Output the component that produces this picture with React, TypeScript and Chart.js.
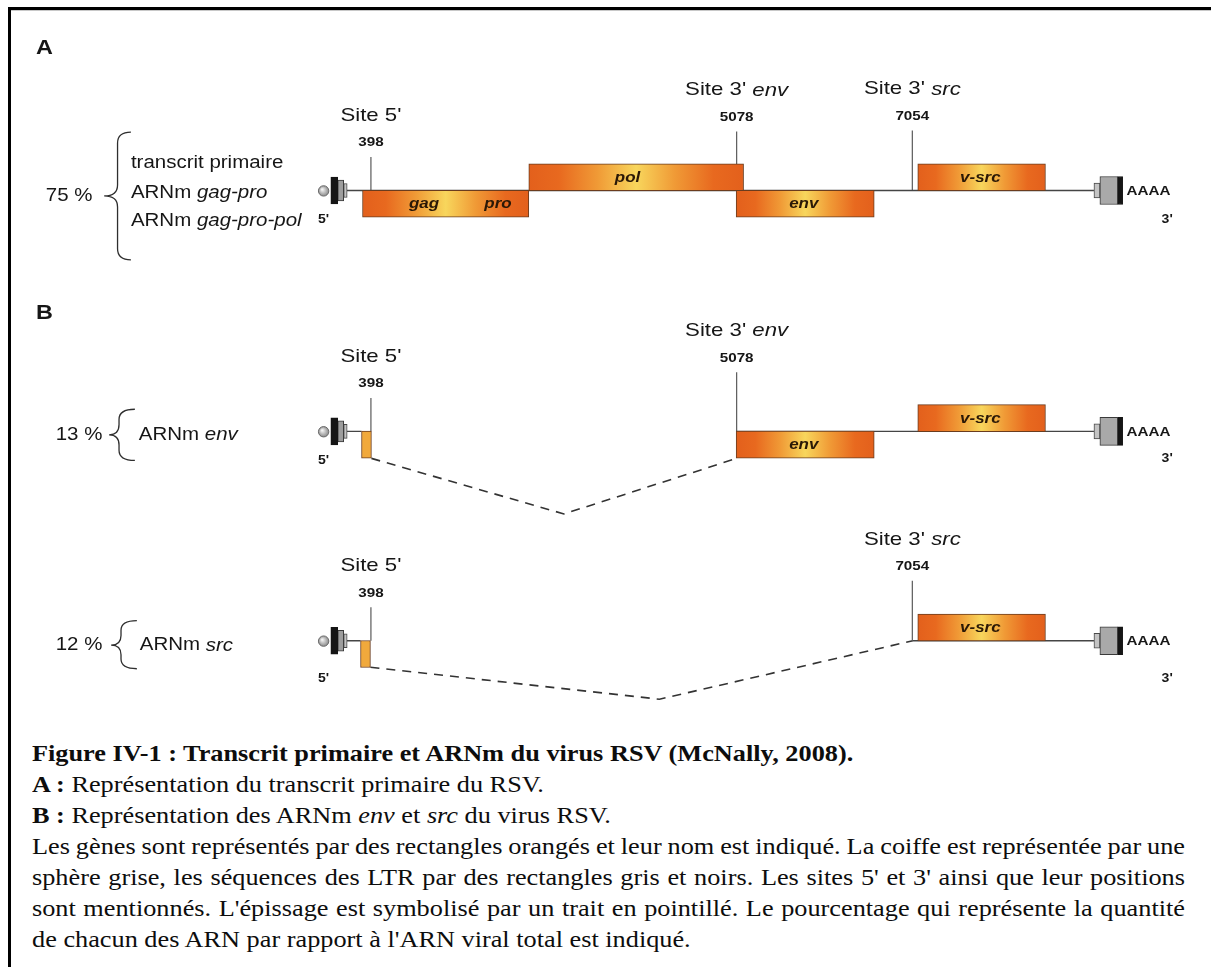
import React, { useEffect, useRef } from "react";
import { Chart, registerables } from "chart.js";

Chart.register(...registerables);

// ---------------- data (diagram units) ----------------
const rowBaseline = [187.5, 432.5, 645.5];
const rowPercent = ["75 %", "13 %", "12 %"];
const rowLabelTexts = [
  ["transcrit primaire", "ARNm _gag-pro_", "ARNm _gag-pro-pol_"],
  ["ARNm _env_"],
  ["ARNm _src_"],
];
const rowLabelY = [[160, 190, 218.5], [436.5], [650.5]];
const braceTop = [128, 410, 625];
const braceBottom = [258, 462, 674];
const braceMid = [193, 436, 650];
const panelLetters = ["A", "B"];
const panelLetterY = [43.5, 313];

const siteNames = ["Site 5'", "Site 3' _env_", "Site 3' _src_"];
const siteNumbers = ["398", "5078", "7054"];
const siteX = [368.5, 738, 915.5];
const siteTickRise = [34, 60, 61];
const rowSites = [[0, 1, 2], [0, 1], [0, 2]];

const geneRow = [0, 0, 0, 0, 1, 1, 2];
const geneLabels = [["gag", "pro"], ["pol"], ["env"], ["v-src"], ["env"], ["v-src"], ["v-src"]];
const geneLabelFrac = [[0.37, 0.815], [0.46], [0.49], [0.49], [0.49], [0.49], [0.49]];
const geneStart = [360, 528, 737.5, 921, 737.5, 921, 921];
const geneEnd = [528, 745, 877, 1050, 877, 1050, 1050];
const geneLane = ["low", "high", "low", "high", "low", "high", "high"];

const exonRow = [1, 2];
const exonStart = [359, 358];
const exonEnd = [369, 368];

const backboneRow = [0, 1, 1, 2, 2];
const backboneStart = [344, 344, 737.5, 344, 916];
const backboneEnd = [1099, 359, 1099, 358, 1099];

const spliceX = [[369, 563.5, 738], [368, 660, 916]];
const spliceY = [[460, 516.5, 460], [672.5, 705, 645.5]];

const endLabelY5 = [217, 462, 684];
const endLabelY3 = [217, 460, 684];

// ---------------- styles ----------------
const STRETCH = 1.17;
const FONT = '"Liberation Sans", Arial, Helvetica, sans-serif';
const INK = "#161616";
const GENE_INK = "#2a1806";
const LANE = 27;
const CAP_X = 320.7;
const LTR5 = [
  { x: [328, 335], t: 27, bg: "#151515", bd: "#151515" },
  { x: [335, 341], t: 21, bg: "#9d9d9d", bd: "#3a3a3a" },
  { x: [341, 344.5], t: 14, bg: "#c4c4c4", bd: "#4a4a4a" },
];
const LTR3 = [
  { x: [1099, 1105], t: 15, bg: "#c4c4c4", bd: "#4a4a4a" },
  { x: [1105, 1123], t: 28, bg: "#a9a9a9", bd: "#3a3a3a" },
  { x: [1123, 1128], t: 28, bg: "#151515", bd: "#151515" },
];
const LEFT = { percentX: [40, 50, 50], labelX: [126, 134, 135], braceTip: [99, 104, 106], braceV: [112.5, 114, 116], braceEnd: [126, 130, 132] };

function drawRich(
  ctx: CanvasRenderingContext2D,
  text: string,
  x: number,
  y: number,
  align: "left" | "center" | "right",
  size: number,
  bold: boolean,
  italicAll: boolean,
  color: string,
  sx = STRETCH
) {
  const parts = text.split("_").map((t, i) => ({ t, it: italicAll || i % 2 === 1 }));
  const fontFor = (it: boolean) => `${it ? "italic " : ""}${bold ? "bold " : ""}${size}px ${FONT}`;
  let w = 0;
  for (const p of parts) {
    ctx.font = fontFor(p.it);
    w += ctx.measureText(p.t).width;
  }
  ctx.save();
  ctx.translate(x, y);
  ctx.scale(sx, 1);
  let cx = align === "center" ? -w / 2 : align === "right" ? -w : 0;
  ctx.textBaseline = "middle";
  ctx.textAlign = "left";
  ctx.fillStyle = color;
  for (const p of parts) {
    ctx.font = fontFor(p.it);
    ctx.fillText(p.t, cx, 0);
    cx += ctx.measureText(p.t).width;
  }
  ctx.restore();
}

const annotationPlugin = {
  id: "diagramText",
  afterDatasetsDraw(chart: any) {
    const ctx: CanvasRenderingContext2D = chart.ctx;
    const xs = chart.scales.x;
    const ys = chart.scales.y;
    const X = (v: number) => xs.getPixelForValue(v);
    const Y = (v: number) => ys.getPixelForValue(v);

    panelLetters.forEach((l, i) => drawRich(ctx, l, X(30), Y(panelLetterY[i]), "left", 20, true, false, INK));

    rowBaseline.forEach((base, r) => {
      drawRich(ctx, rowPercent[r], X(LEFT.percentX[r]), Y(braceMid[r]), "left", 17.5, false, false, INK);
      const t = Y(braceTop[r]), b = Y(braceBottom[r]), m = Y(braceMid[r]);
      const xt = X(LEFT.braceTip[r]), xv = X(LEFT.braceV[r]), xe = X(LEFT.braceEnd[r]);
      const rr = Math.min(11, (b - t) / 5);
      ctx.save();
      ctx.strokeStyle = "#2e2e2e";
      ctx.lineWidth = 1.3;
      ctx.beginPath();
      ctx.moveTo(xe, t);
      ctx.quadraticCurveTo(xv, t, xv, t + rr);
      ctx.lineTo(xv, m - rr);
      ctx.quadraticCurveTo(xv, m, xt, m);
      ctx.quadraticCurveTo(xv, m, xv, m + rr);
      ctx.lineTo(xv, b - rr);
      ctx.quadraticCurveTo(xv, b, xe, b);
      ctx.stroke();
      ctx.restore();
      rowLabelTexts[r].forEach((txt, k) =>
        drawRich(ctx, txt, X(LEFT.labelX[r]), Y(rowLabelY[r][k]), "left", 17.5, false, false, INK)
      );
      rowSites[r].forEach((s) => {
        const top = base - siteTickRise[s];
        drawRich(ctx, siteNumbers[s], X(siteX[s]), Y(top - 14.5), "center", 13, true, false, INK);
        drawRich(ctx, siteNames[s], X(siteX[s]), Y(top - 42), "center", 19, false, false, INK);
      });
      drawRich(ctx, "5'", X(CAP_X), Y(endLabelY5[r]), "center", 12, true, false, INK);
      drawRich(ctx, "3'", X(1173), Y(endLabelY3[r]), "center", 12, true, false, INK);
      drawRich(ctx, "AAAA", X(1132), Y(base + 1), "left", 13, true, false, INK);
    });

    geneRow.forEach((r, i) => {
      const cy = rowBaseline[r] + (geneLane[i] === "high" ? -LANE / 2 : LANE / 2) + 0.5;
      geneLabels[i].forEach((lab, k) => {
        const gx = geneStart[i] + (geneEnd[i] - geneStart[i]) * geneLabelFrac[i][k];
        drawRich(ctx, lab, X(gx), Y(cy), "center", 14.5, true, true, GENE_INK);
      });
    });
  },
};

function geneGradient(c: any) {
  const ch = c.chart;
  const xs = ch.scales && ch.scales.x;
  const raw = c.raw;
  if (!xs || !raw || !Array.isArray(raw.x)) return "#E8671F";
  const x0 = xs.getPixelForValue(raw.x[0]);
  const x1 = xs.getPixelForValue(raw.x[1]);
  if (!isFinite(x0) || !isFinite(x1) || x1 - x0 < 1) return "#E8671F";
  const g = ch.ctx.createLinearGradient(x0, 0, x1, 0);
  g.addColorStop(0, "#E3601C");
  g.addColorStop(0.14, "#E8691F");
  g.addColorStop(0.32, "#F09A36");
  g.addColorStop(0.5, "#F8D65C");
  g.addColorStop(0.68, "#F09A36");
  g.addColorStop(0.86, "#E8691F");
  g.addColorStop(1, "#E3601C");
  return g;
}

function capGradient(c: any) {
  const ch = c.chart;
  const raw = c.raw;
  if (!ch.scales || !ch.scales.x || !raw) return "#b5b5b5";
  const cx = ch.scales.x.getPixelForValue(raw.x);
  const cy = ch.scales.y.getPixelForValue(raw.y);
  if (!isFinite(cx) || !isFinite(cy)) return "#b5b5b5";
  const g = ch.ctx.createRadialGradient(cx - 1.5, cy - 1.5, 0.5, cx, cy, 5.5);
  g.addColorStop(0, "#f2f2f2");
  g.addColorStop(1, "#858585");
  return g;
}

export default function App() {
  const ref = useRef<HTMLCanvasElement>(null);

  useEffect(() => {
    const canvas = ref.current;
    if (!canvas) return;
    const datasets: any[] = [];

    backboneRow.forEach((r, i) =>
      datasets.push({
        type: "line",
        data: [
          { x: backboneStart[i], y: rowBaseline[r] },
          { x: backboneEnd[i], y: rowBaseline[r] },
        ],
        borderColor: "#454545",
        borderWidth: 1.4,
        pointRadius: 0,
        fill: false,
        order: 6,
      })
    );

    rowSites.forEach((sites, r) =>
      sites.forEach((s) =>
        datasets.push({
          type: "line",
          data: [
            { x: siteX[s], y: rowBaseline[r] - siteTickRise[s] },
            { x: siteX[s], y: rowBaseline[r] },
          ],
          borderColor: "#5a5a5a",
          borderWidth: 1.2,
          pointRadius: 0,
          fill: false,
          order: 6,
        })
      )
    );

    spliceX.forEach((xsArr, k) =>
      datasets.push({
        type: "line",
        data: xsArr.map((x, j) => ({ x, y: spliceY[k][j] })),
        borderColor: "#333333",
        borderWidth: 1.6,
        borderDash: [9, 7],
        pointRadius: 0,
        fill: false,
        order: 6,
      })
    );

    const barBase = {
      type: "bar",
      indexAxis: "y",
      stack: "g",
      borderSkipped: false,
      order: 3,
    };

    datasets.push({
      ...barBase,
      data: geneRow.map((r, i) => ({
        y: rowBaseline[r] + (geneLane[i] === "high" ? -LANE / 2 : LANE / 2),
        x: [geneStart[i], geneEnd[i]],
      })),
      barThickness: LANE,
      backgroundColor: geneGradient,
      borderColor: "#6a3c1e",
      borderWidth: 1,
    });

    datasets.push({
      ...barBase,
      data: exonRow.map((r, i) => ({ y: rowBaseline[r] + LANE / 2, x: [exonStart[i], exonEnd[i]] })),
      barThickness: LANE,
      backgroundColor: "#F1A93C",
      borderColor: "#6a3c1e",
      borderWidth: 1,
    });

    [...LTR5, ...LTR3].forEach((p) =>
      datasets.push({
        ...barBase,
        data: rowBaseline.map((b) => ({ y: b, x: p.x })),
        barThickness: p.t,
        backgroundColor: p.bg,
        borderColor: p.bd,
        borderWidth: 1,
      })
    );

    datasets.push({
      type: "line",
      showLine: false,
      data: rowBaseline.map((b) => ({ x: CAP_X, y: b + 0.4 })),
      pointRadius: 5.2,
      pointBackgroundColor: capGradient,
      pointBorderColor: "#6a6a6a",
      pointBorderWidth: 1,
      order: 1,
    });

    const chart = new Chart(canvas, {
      type: "line",
      data: { datasets },
      options: {
        animation: false,
        responsive: false,
        maintainAspectRatio: false,
        events: [],
        layout: { padding: 0 },
        datasets: { bar: { indexAxis: "y" } } as any,
        plugins: { legend: { display: false }, tooltip: { enabled: false }, title: { display: false } },
        scales: {
          x: { type: "linear", min: 0, max: 1211, display: false, offset: false, stacked: false, grid: { offset: false } },
          y: { type: "linear", min: 0, max: 730, reverse: true, display: false, offset: false, grid: { offset: false } },
        },
      } as any,
      plugins: [annotationPlugin],
    });
    return () => chart.destroy();
  }, []);

  const innerW = 1009;
  const caption: React.CSSProperties = {
    position: "absolute",
    left: 32,
    top: 738,
    width: innerW,
    transform: `scaleX(${(1153 / innerW).toFixed(4)})`,
    transformOrigin: "0 0",
    fontFamily: '"Liberation Serif", "Times New Roman", serif',
    fontSize: 23,
    lineHeight: "31px",
    color: "#0d0d0d",
  };
  const just: React.CSSProperties = { textAlign: "justify", textAlignLast: "justify", whiteSpace: "nowrap", wordSpacing: "-1px", height: 31 } as any;
  const line: React.CSSProperties = { whiteSpace: "nowrap", height: 31 };

  return (
    <div style={{ position: "absolute", left: 0, top: 0, width: 1211, height: 967, overflow: "hidden", background: "#fff" }}>
      <div style={{ position: "absolute", left: 8, top: 7, width: 1300, height: 1100, borderTop: "3px solid #000", borderLeft: "3px solid #000" }} />
      <div style={{ position: "absolute", left: 11, top: 10, width: 1200, height: 1, background: "#c8c8c8" }} />
      <canvas ref={ref} width={1211} height={730} style={{ position: "absolute", left: 0, top: 0, width: 1211, height: 730 }} />
      <div style={caption}>
        <div style={{ ...line, fontWeight: "bold" }}>Figure IV-1 : Transcrit primaire et ARNm du virus RSV (McNally, 2008).</div>
        <div style={line}><b>A :</b> Représentation du transcrit primaire du RSV.</div>
        <div style={line}><b>B :</b> Représentation des ARNm <i>env</i> et <i>src</i> du virus RSV.</div>
        <div style={just}>Les gènes sont représentés par des rectangles orangés et leur nom est indiqué. La coiffe est représentée par une</div>
        <div style={just}>sphère grise, les séquences des LTR par des rectangles gris et noirs. Les sites 5' et 3' ainsi que leur positions</div>
        <div style={just}>sont mentionnés. L'épissage est symbolisé par un trait en pointillé. Le pourcentage qui représente la quantité</div>
        <div style={line}>de chacun des ARN par rapport à l'ARN viral total est indiqué.</div>
      </div>
    </div>
  );
}
